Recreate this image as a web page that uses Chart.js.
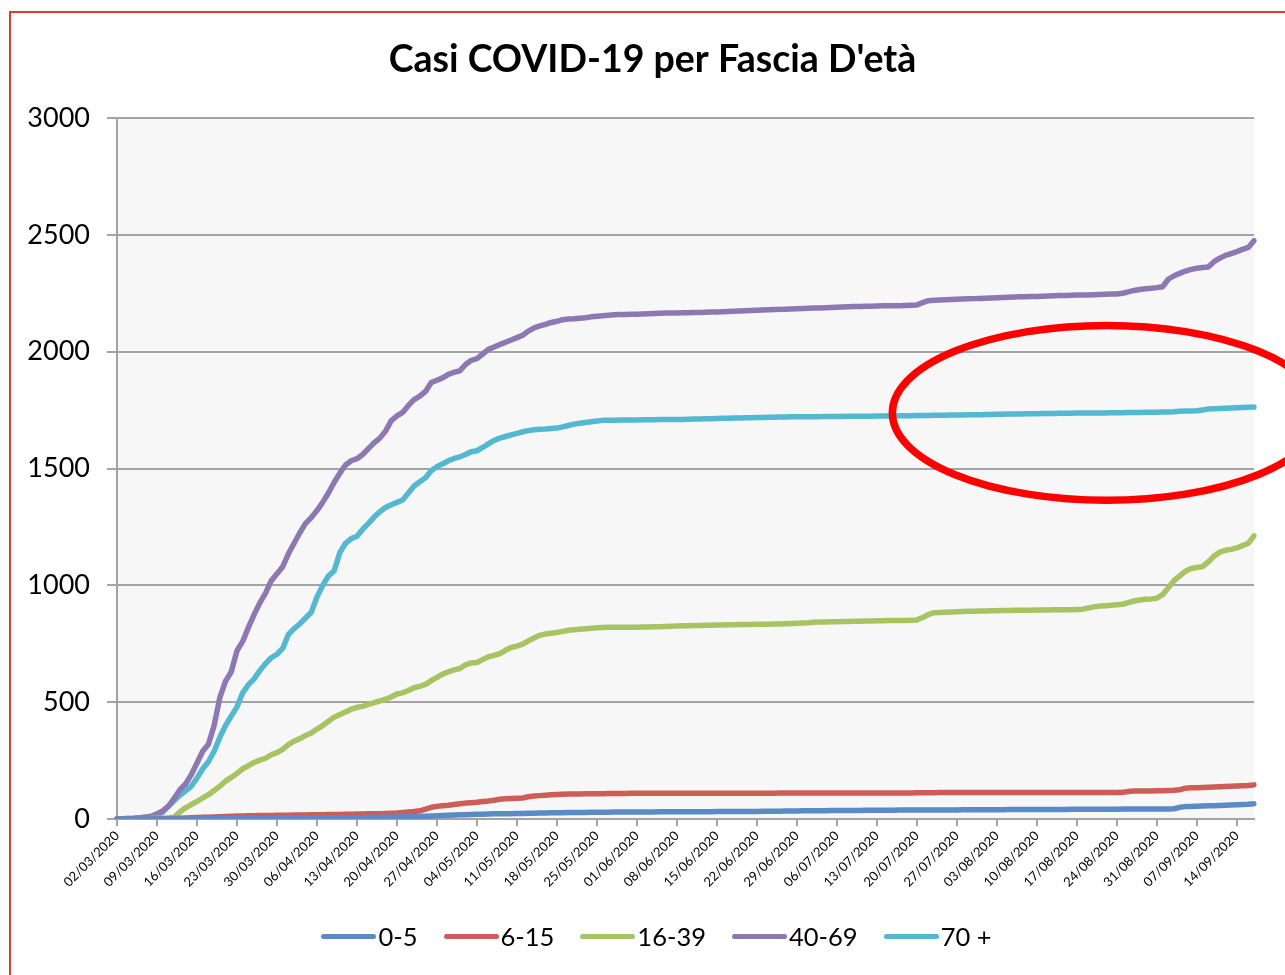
<!DOCTYPE html>
<html>
<head>
<meta charset="utf-8">
<script src="https://cdn.jsdelivr.net/npm/chart.js@4.4.1/dist/chart.umd.min.js"></script>
<style>
html,body{margin:0;padding:0;background:#fff;width:1285px;height:975px;overflow:hidden;}
#wrap{position:relative;width:1285px;height:975px;overflow:hidden;}
#frame{position:absolute;left:9px;top:11px;width:1400px;height:1100px;border-left:2px solid #d8402e;border-top:2px solid #d8402e;}
#chart{position:absolute;left:0;top:0;}
#legend{position:absolute;left:0;top:921px;width:1313px;height:30px;display:flex;justify-content:center;align-items:center;font-family:Lato,"Open Sans",sans-serif;font-size:25.5px;color:#000;}
.item{display:flex;align-items:center;margin:0 13px;}
.sw{display:inline-block;width:55px;height:5px;border-radius:3px;margin-right:2px;}
</style>
</head>
<body>
<div id="wrap">
  <div id="frame"></div>
  <canvas id="chart" width="1285" height="975"></canvas>
  <div id="legend"></div>
</div>
<script>
// ---- data ----
const startDate = [2020, 3, 2];   // 02/03/2020
const dayCount = 200;             // 02/03/2020 .. 17/09/2020
const seriesNames = ['0-5', '6-15', '16-39', '40-69', '70 +'];
const seriesColors = ['#5a8bc7', '#cd5d56', '#a6c462', '#8e78b3', '#53b8d0'];
const tickLabels = ['02/03/2020','09/03/2020','16/03/2020','23/03/2020','30/03/2020','06/04/2020','13/04/2020','20/04/2020','27/04/2020','04/05/2020','11/05/2020','18/05/2020','25/05/2020','01/06/2020','08/06/2020','15/06/2020','22/06/2020','29/06/2020','06/07/2020','13/07/2020','20/07/2020','27/07/2020','03/08/2020','10/08/2020','17/08/2020','24/08/2020','31/08/2020','07/09/2020','14/09/2020'];
const yTicks = [0, 500, 1000, 1500, 2000, 2500, 3000];

const age0_5 = [
0,0,0,0,0,0,0,0,0,0,
0,0,0,0,0,1,1,1,1,1,
1,1,2,2,2,2,2,3,3,3,
3,3,3,4,4,4,4,4,5,5,
5,5,6,6,6,7,7,8,8,9,
9,10,10,11,12,13,14,15,16,17,
18,18,19,20,20,21,22,22,23,23,
24,24,25,25,26,26,27,27,27,28,
28,28,28,29,29,29,29,30,30,30,
30,30,30,30,30,31,31,31,31,31,
31,31,31,31,31,32,32,32,32,32,
32,32,32,33,33,33,33,34,34,34,
35,35,35,35,35,36,36,36,36,36,
36,37,37,37,37,37,37,38,38,38,
38,38,39,39,39,39,39,39,40,40,
40,40,40,40,40,40,41,41,41,41,
41,41,41,41,41,41,41,42,42,42,
42,42,42,42,42,42,43,43,43,43,
43,43,43,43,43,44,50,53,54,55,
56,57,57,58,59,60,61,62,63,65];

const age6_15 = [
0,0,0,0,0,0,0,0,1,1,
2,3,4,5,6,7,8,9,10,11,
12,13,13,14,14,15,15,15,16,16,
16,17,17,17,18,18,18,19,19,19,
20,20,21,21,22,22,23,24,25,26,
28,30,32,35,42,50,54,57,59,62,
65,68,70,72,75,77,80,85,87,88,
89,90,95,98,100,102,104,105,106,107,
107,107,108,108,108,108,109,109,109,109,
110,110,110,110,110,110,110,110,110,110,
110,110,110,110,110,110,110,110,110,110,
110,110,110,110,110,110,111,111,111,111,
111,111,111,111,111,111,111,111,111,111,
111,111,111,111,111,111,111,111,111,111,
112,112,112,112,113,113,113,113,113,113,
113,113,113,113,113,113,113,113,113,113,
113,113,113,113,113,113,113,113,113,113,
113,113,113,113,113,113,114,118,120,120,
120,120,121,121,122,123,125,132,134,134,
135,136,137,138,139,140,141,142,143,146];

const age16_39 = [
0,0,0,0,1,1,2,3,4,5,
7,30,48,62,75,90,104,122,140,162,
178,195,215,228,242,252,260,275,284,298,
318,333,344,357,368,385,400,418,435,447,
458,470,478,482,490,498,505,513,522,535,
540,550,562,568,576,592,606,620,630,638,
644,660,668,670,682,694,700,708,722,734,
740,748,762,775,786,792,795,798,803,808,
810,812,814,816,818,820,821,821,821,821,
821,821,822,822,823,823,824,825,826,827,
827,828,828,829,829,830,830,831,831,832,
832,832,833,833,833,834,835,836,837,838,
839,840,842,843,843,844,844,845,845,846,
846,847,847,848,848,849,849,850,850,851,
852,862,875,883,884,885,886,887,888,889,
889,890,890,891,891,892,892,893,893,893,
893,894,894,894,895,895,895,896,897,898,
903,908,911,913,915,917,919,926,933,937,
940,942,945,960,990,1020,1040,1060,1072,1076,
1080,1100,1125,1142,1150,1154,1160,1170,1180,1212];

const age40_69 = [
0,1,2,3,5,8,12,22,35,55,
88,125,150,190,240,290,320,400,520,590,
630,720,760,820,875,925,967,1020,1050,1080,
1135,1180,1225,1265,1290,1320,1355,1395,1440,1480,
1515,1533,1542,1560,1585,1610,1630,1660,1705,1725,
1740,1770,1795,1810,1830,1868,1878,1888,1903,1912,
1918,1945,1963,1970,1990,2010,2020,2031,2040,2050,
2060,2070,2088,2102,2110,2117,2125,2130,2137,2140,
2141,2143,2145,2149,2152,2154,2156,2158,2159,2159,
2160,2160,2161,2162,2163,2164,2165,2165,2166,2167,
2167,2168,2168,2169,2170,2170,2171,2172,2173,2174,
2175,2176,2177,2178,2179,2180,2181,2182,2183,2184,
2185,2186,2187,2187,2188,2189,2190,2191,2192,2193,
2193,2194,2194,2195,2196,2196,2197,2197,2198,2199,
2200,2210,2218,2220,2221,2222,2223,2224,2225,2226,
2227,2228,2229,2230,2231,2232,2233,2234,2235,2235,
2236,2236,2237,2238,2239,2240,2240,2241,2242,2243,
2243,2244,2245,2246,2247,2247,2250,2256,2262,2266,
2269,2271,2274,2278,2310,2325,2335,2345,2352,2357,
2360,2362,2385,2400,2412,2420,2428,2438,2446,2475];

const age70plus = [
0,1,2,3,5,7,10,16,30,55,
78,102,120,140,175,215,245,290,350,400,
440,480,540,575,600,635,665,690,705,730,
790,815,835,860,885,950,1000,1040,1062,1140,
1180,1200,1210,1240,1265,1292,1315,1333,1345,1355,
1365,1395,1425,1443,1460,1490,1508,1520,1533,1543,
1550,1560,1572,1576,1590,1605,1620,1630,1637,1644,
1650,1657,1662,1666,1668,1669,1671,1673,1678,1684,
1690,1694,1697,1700,1703,1706,1707,1707,1708,1708,
1708,1708,1709,1709,1709,1710,1710,1710,1710,1710,
1711,1712,1712,1713,1713,1714,1715,1715,1716,1716,
1717,1717,1718,1718,1719,1719,1720,1720,1721,1721,
1721,1722,1722,1722,1723,1723,1723,1723,1724,1724,
1724,1724,1724,1725,1725,1725,1725,1726,1726,1726,
1727,1727,1727,1728,1728,1728,1729,1729,1729,1730,
1730,1730,1731,1731,1732,1732,1733,1733,1733,1734,
1734,1734,1735,1735,1735,1736,1736,1736,1737,1737,
1737,1738,1738,1738,1739,1739,1739,1740,1740,1740,
1741,1741,1741,1742,1742,1743,1745,1746,1746,1747,
1750,1755,1756,1757,1758,1759,1760,1761,1762,1763];

// red ellipse annotation (data coordinates: day index, cases)
const highlightCenterDay = 173.2;
const highlightCenterValue = 1738;
const highlightRadiusDays = 37.5;
const highlightRadiusValue = 374;

// ---- build categories ----
const categories = [];
{
  const d = new Date(Date.UTC(startDate[0], startDate[1] - 1, startDate[2]));
  for (let i = 0; i < dayCount; i++) {
    const dd = String(d.getUTCDate()).padStart(2, '0');
    const mm = String(d.getUTCMonth() + 1).padStart(2, '0');
    categories.push(dd + '/' + mm + '/' + d.getUTCFullYear());
    d.setUTCDate(d.getUTCDate() + 1);
  }
}
const seriesValues = [age0_5, age6_15, age16_39, age40_69, age70plus];

const FONT = 'Lato, "Open Sans", sans-serif';
const TITLE_LEFT = 51;

const plotBg = {
  id: 'plotBg',
  afterLayout(chart) {
    // centre the title like the original (box from x=51 to the plot's right edge)
    if (chart.titleBlock) {
      chart.titleBlock.left = TITLE_LEFT;
      chart.titleBlock.width = chart.titleBlock.right - TITLE_LEFT;
    }
  },
  beforeDraw(chart) {
    const {ctx, chartArea: a} = chart;
    ctx.save();
    ctx.fillStyle = '#f7f7f7';
    ctx.fillRect(a.left, a.top, a.right - a.left, a.bottom - a.top);
    ctx.restore();
  }
};

const ellipse = {
  id: 'ellipse',
  afterDraw(chart) {
    const {ctx} = chart;
    const x = chart.scales.x, y = chart.scales.y;
    const cx = x.getPixelForValue(highlightCenterDay);
    const cy = y.getPixelForValue(highlightCenterValue);
    const rx = x.getPixelForValue(highlightCenterDay + highlightRadiusDays) - cx;
    const ry = cy - y.getPixelForValue(highlightCenterValue + highlightRadiusValue);
    ctx.save();
    ctx.strokeStyle = '#ff0000';
    ctx.lineWidth = 7.5;
    ctx.beginPath();
    ctx.ellipse(cx, cy, rx, ry, 0, 0, Math.PI * 2);
    ctx.stroke();
    ctx.restore();
  }
};

new Chart(document.getElementById('chart'), {
  type: 'line',
  data: {
    labels: categories,
    datasets: seriesNames.map((n, i) => ({
      label: n,
      data: seriesValues[i],
      borderColor: seriesColors[i],
      backgroundColor: seriesColors[i],
      borderWidth: 5.5,
      pointRadius: 0,
      tension: 0,
      fill: false,
      borderCapStyle: 'round',
      borderJoinStyle: 'round'
    }))
  },
  options: {
    responsive: false,
    animation: false,
    devicePixelRatio: 1,
    layout: { padding: { left: 0, right: 31, top: 0, bottom: 86 } },
    plugins: {
      legend: { display: false },
      tooltip: { enabled: false },
      title: {
        display: true,
        text: "Casi COVID-19 per Fascia D'età",
        color: '#000',
        font: { family: FONT, size: 37.5, weight: 'bold', lineHeight: 1.2 },
        padding: { top: 37, bottom: 36 }
      }
    },
    scales: {
      x: {
        type: 'category',
        offset: false,
        afterFit(s) { s.height = 70; },
        border: { display: true, color: '#a3a3a3', width: 2 },
        grid: { display: true, drawOnChartArea: false, drawTicks: true, tickLength: 7, color: '#a3a3a3', lineWidth: 2 },
        ticks: {
          autoSkip: false,
          minRotation: 45,
          maxRotation: 45,
          padding: 2,
          color: '#000',
          font: { family: FONT, size: 13 },
          callback(v, i) {
            const lab = categories[i];
            return tickLabels.includes(lab) ? lab : null;
          }
        }
      },
      y: {
        min: 0,
        max: 3000,
        afterFit(s) { s.width = 117; },
        afterBuildTicks(s) { s.ticks = yTicks.map(v => ({ value: v })); },
        border: { display: true, color: '#a3a3a3', width: 2 },
        grid: { color: '#a3a3a3', lineWidth: 2, drawTicks: true, tickLength: 10 },
        ticks: {
          padding: 17,
          color: '#000',
          font: { family: FONT, size: 27 },
          callback(v) { return String(v); }
        }
      }
    }
  },
  plugins: [plotBg, ellipse]
});

// legend
const leg = document.getElementById('legend');
seriesNames.forEach((n, i) => {
  const it = document.createElement('span');
  it.className = 'item';
  const sw = document.createElement('span');
  sw.className = 'sw';
  sw.style.background = seriesColors[i];
  const tx = document.createElement('span');
  tx.textContent = n;
  it.appendChild(sw); it.appendChild(tx);
  leg.appendChild(it);
});
</script>
</body>
</html>
